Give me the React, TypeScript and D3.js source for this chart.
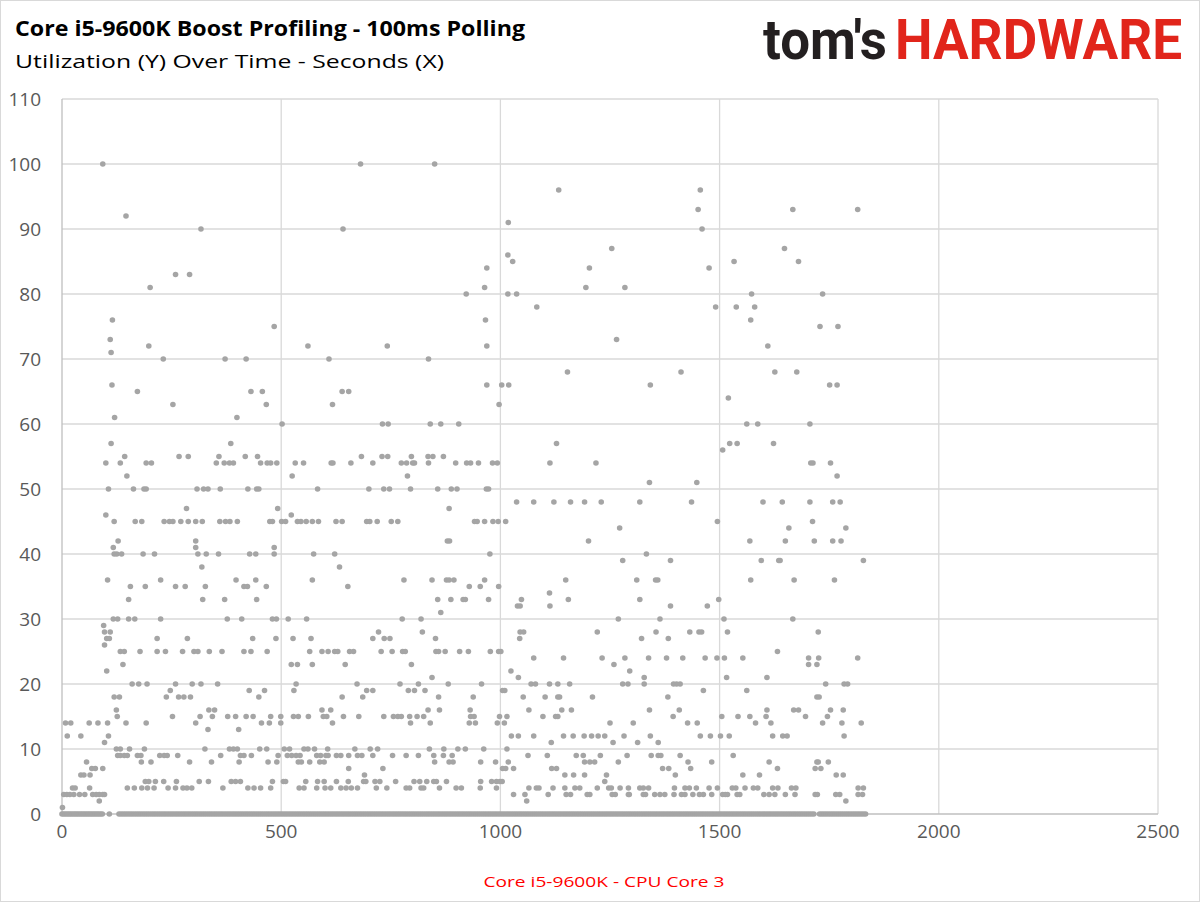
import * as d3 from "d3";
import { useEffect } from "react";

// [utilization %, seconds at which that reading was seen]
type Row = [number, number[]];

const xTicks = [0, 500, 1000, 1500, 2000, 2500];
const yTicks = [0, 10, 20, 30, 40, 50, 60, 70, 80, 90, 100, 110];

// idle samples sitting on the 0% line
const zeroSeconds = [
  0, 4, 8, 12, 16, 20, 24, 28, 32, 36, 40, 44, 48, 52, 56, 60, 64, 68, 72, 76,
  80, 84, 88, 92, 108, 130, 135, 140, 145, 150, 155, 160, 165, 170, 175, 180,
  185, 190, 195, 200, 205, 210, 215, 220, 225, 230, 235, 240, 245, 250, 255,
  260, 265, 270, 275, 280, 285, 290, 295, 300, 305, 310, 315, 320, 325, 330,
  335, 340, 345, 350, 355, 360, 365, 370, 375, 380, 385, 390, 395, 400, 405,
  410, 415, 420, 425, 430, 435, 440, 445, 450, 455, 460, 465, 470, 475, 480,
  485, 490, 495, 500, 505, 510, 515, 520, 525, 530, 535, 540, 545, 550, 555,
  560, 565, 570, 575, 580, 585, 590, 595, 600, 605, 610, 615, 620, 625, 630,
  635, 640, 645, 650, 655, 660, 665, 670, 675, 680, 685, 690, 695, 700, 705,
  710, 715, 720, 725, 730, 735, 740, 745, 750, 755, 760, 765, 770, 775, 780,
  785, 790, 795, 800, 805, 810, 815, 820, 825, 830, 835, 840, 845, 850, 855,
  860, 865, 870, 875, 880, 885, 890, 895, 900, 905, 910, 915, 920, 925, 930,
  935, 940, 945, 950, 955, 960, 965, 970, 975, 980, 985, 990, 995, 1000, 1005,
  1010, 1015, 1020, 1025, 1030, 1035, 1040, 1045, 1050, 1055, 1060, 1065, 1070,
  1075, 1080, 1085, 1090, 1095, 1100, 1105, 1110, 1115, 1120, 1125, 1130, 1135,
  1140, 1145, 1150, 1155, 1160, 1165, 1170, 1175, 1180, 1185, 1190, 1195, 1200,
  1205, 1210, 1215, 1220, 1225, 1230, 1235, 1240, 1245, 1250, 1255, 1260, 1265,
  1270, 1275, 1280, 1285, 1290, 1295, 1300, 1305, 1310, 1315, 1320, 1325, 1330,
  1335, 1340, 1345, 1350, 1355, 1360, 1365, 1370, 1375, 1380, 1385, 1390, 1395,
  1400, 1405, 1410, 1415, 1420, 1425, 1430, 1435, 1440, 1445, 1450, 1455, 1460,
  1465, 1470, 1475, 1480, 1485, 1490, 1495, 1500, 1505, 1510, 1515, 1520, 1525,
  1530, 1535, 1540, 1545, 1550, 1555, 1560, 1565, 1570, 1575, 1580, 1585, 1590,
  1595, 1600, 1605, 1610, 1615, 1620, 1625, 1630, 1635, 1640, 1645, 1650, 1655,
  1660, 1665, 1670, 1675, 1680, 1685, 1690, 1695, 1700, 1705, 1710, 1715, 1728,
  1733, 1738, 1743, 1748, 1753, 1758, 1763, 1768, 1773, 1778, 1783, 1788, 1793,
  1798, 1803, 1808, 1813, 1818, 1823, 1828, 1833,
];

const early: Row[] = [
  [100, [93]],
  [92, [146]],
  [90, [317]],
  [83, [259, 291]],
  [81, [201]],
  [76, [115]],
  [75, [484]],
  [73, [110]],
  [72, [198]],
  [71, [112]],
  [70, [231, 372, 420]],
  [66, [114]],
  [65, [172, 431, 457]],
  [63, [253, 466]],
  [61, [120, 399]],
  [57, [112, 385]],
  [55, [143, 267, 288, 358, 418, 446]],
  [54, [100, 133, 192, 204, 352, 370, 382, 391, 453, 468, 476, 490]],
  [52, [148]],
  [50, [106, 163, 187, 192, 308, 323, 333, 361, 424, 444, 449]],
  [47, [284, 492]],
  [46, [100]],
  [45, [119, 167, 182, 233, 245, 253, 271, 288, 305, 320, 360, 373, 383, 400, 474, 480]],
  [42, [128, 305]],
  [41, [117, 305, 484]],
  [40, [119, 125, 136, 185, 211, 310, 329, 357, 428, 442, 484]],
  [38, [319]],
  [36, [104, 225, 397, 442]],
  [35, [156, 190, 259, 281, 327, 415, 423, 466]],
  [33, [152, 321, 371, 444]],
  [30, [117, 127, 152, 166, 225, 377, 410, 480, 489]],
  [29, [95]],
  [28, [97, 110]],
  [27, [102, 108, 217, 286, 435, 488]],
  [26, [97]],
  [25, [133, 142, 178, 217, 236, 275, 301, 310, 336, 365, 415, 431, 468]],
  [23, [139]],
  [22, [102]],
  [20, [160, 175, 194, 259, 297, 317, 355]],
  [19, [247, 427, 462]],
  [18, [119, 131, 238, 266, 278, 293, 449]],
  [16, [124, 335, 348]],
  [15, [126, 252, 315, 343, 378, 396, 420, 436, 476, 499]],
  [14, [8, 20, 62, 82, 104, 146, 192, 305, 455, 473, 499]],
  [13, [333, 403]],
  [12, [12, 43, 106]],
  [11, [97]],
  [10, [124, 133, 154, 188, 326, 382, 391, 400, 451, 467]],
  [9, [127, 133, 142, 149, 172, 180, 223, 233, 240, 264, 362, 407, 415, 432, 493]],
  [8, [56, 181, 203, 291, 341, 404, 470, 490]],
  [7, [68, 76, 93]],
  [6, [43, 50, 64]],
  [5, [190, 198, 213, 232, 261, 313, 334, 386, 396, 407, 480]],
  [4, [24, 30, 63, 149, 165, 182, 195, 210, 242, 259, 276, 285, 296, 367, 424, 438, 453, 476]],
  [3, [4, 11, 18, 27, 40, 52, 70, 78, 85, 93, 97]],
  [2, [85]],
  [1, [1]],
];

const middle: Row[] = [
  [100, [681, 850]],
  [90, [641]],
  [84, [969]],
  [81, [964]],
  [80, [922]],
  [76, [966]],
  [72, [561, 742, 969]],
  [70, [609, 836]],
  [66, [969]],
  [65, [639, 654]],
  [63, [617, 997]],
  [60, [502, 731, 744, 840, 864, 905]],
  [55, [683, 730, 743, 797, 835, 846, 870]],
  [54, [532, 551, 614, 618, 659, 709, 774, 786, 800, 804, 836, 898, 923, 932, 950, 982, 993]],
  [52, [525, 788]],
  [50, [583, 700, 734, 747, 795, 857, 888, 901, 968, 973]],
  [47, [883]],
  [46, [523]],
  [45, [501, 510, 537, 545, 557, 571, 585, 625, 639, 695, 702, 719, 751, 766, 941, 947, 964, 983, 995]],
  [42, [879, 884]],
  [40, [574, 622, 976]],
  [38, [633]],
  [36, [571, 780, 844, 877, 883, 894, 964]],
  [35, [652, 929, 954, 996]],
  [33, [857, 887, 915, 920, 973]],
  [31, [864]],
  [30, [516, 558, 776, 819]],
  [28, [722, 822]],
  [27, [527, 568, 709, 735, 748, 852]],
  [25, [565, 593, 607, 622, 629, 656, 665, 728, 753, 777, 783, 853, 859, 874, 907, 927, 977, 996]],
  [23, [523, 537, 571, 646, 797]],
  [21, [844]],
  [20, [534, 673, 771, 813, 881, 957]],
  [19, [529, 695, 709, 790, 804, 828]],
  [18, [639, 686, 859, 938]],
  [16, [593, 613, 835, 861, 931]],
  [15, [528, 539, 562, 596, 604, 642, 677, 734, 756, 766, 774, 793, 810, 825, 932, 940, 998]],
  [14, [617, 795, 840, 929, 943, 993]],
  [10, [507, 519, 552, 561, 576, 606, 668, 703, 720, 838, 871, 903, 920, 962]],
  [9, [514, 524, 534, 543, 581, 590, 602, 607, 626, 636, 654, 674, 684, 709, 754, 785, 813, 848, 870, 890]],
  [8, [539, 546, 565, 588, 598, 850, 883, 892, 955, 989]],
  [7, [654, 732]],
  [6, [690]],
  [5, [505, 510, 556, 583, 598, 626, 653, 688, 693, 714, 725, 761, 803, 816, 832, 848, 854, 877, 955, 980, 991]],
  [4, [541, 552, 581, 600, 613, 636, 648, 660, 674, 717, 741, 785, 793, 819, 825, 861, 899, 911, 954, 991]],
];

const late: Row[] = [
  [96, [1133, 1456]],
  [93, [1451]],
  [91, [1018]],
  [90, [1460]],
  [87, [1254]],
  [86, [1017]],
  [85, [1028]],
  [84, [1203, 1476]],
  [81, [1195, 1284]],
  [80, [1017, 1037]],
  [78, [1083, 1491]],
  [73, [1265]],
  [68, [1153, 1412]],
  [66, [1003, 1019, 1342]],
  [57, [1128]],
  [54, [1113, 1218]],
  [51, [1340, 1448]],
  [48, [1037, 1076, 1122, 1160, 1192, 1230, 1318, 1436]],
  [45, [1012, 1495]],
  [44, [1272]],
  [42, [1201]],
  [40, [1333]],
  [39, [1279, 1388]],
  [36, [1149, 1311, 1354, 1359]],
  [34, [1112]],
  [33, [1048, 1155, 1318, 1498]],
  [32, [1039, 1045, 1113, 1388, 1472]],
  [30, [1269, 1364]],
  [28, [1045, 1053, 1221, 1355, 1432, 1453, 1459]],
  [27, [1044, 1322, 1383]],
  [25, [1001]],
  [24, [1076, 1144, 1232, 1284, 1338, 1379, 1416, 1467, 1494]],
  [23, [1259]],
  [22, [1024, 1295]],
  [21, [1041, 1328]],
  [20, [1070, 1080, 1112, 1131, 1158, 1279, 1291, 1328, 1395, 1402, 1410]],
  [19, [1005, 1010, 1463]],
  [18, [1052, 1102, 1131, 1135, 1210, 1382]],
  [16, [1065, 1140, 1162, 1340, 1408]],
  [15, [1015, 1097, 1126, 1131, 1394]],
  [14, [1009, 1250, 1303, 1427, 1449]],
  [12, [1025, 1041, 1076, 1144, 1166, 1191, 1208, 1223, 1238, 1282, 1342, 1456, 1479]],
  [11, [1116, 1257, 1313, 1360]],
  [10, [1015]],
  [9, [1063, 1107, 1173, 1189, 1228, 1289, 1344, 1360, 1366, 1410]],
  [8, [1018, 1192, 1204, 1215, 1269, 1428, 1482]],
  [7, [1005, 1012, 1030, 1117, 1128, 1370, 1384, 1434]],
  [6, [1147, 1167, 1192, 1242, 1399]],
  [5, [999, 1004, 1238]],
  [4, [1065, 1082, 1088, 1120, 1147, 1170, 1181, 1221, 1247, 1253, 1273, 1292, 1318, 1326, 1338, 1397, 1421, 1431, 1447, 1476, 1495]],
  [3, [1030, 1056, 1109, 1150, 1160, 1198, 1204, 1255, 1262, 1292, 1294, 1326, 1331, 1352, 1364, 1375, 1396, 1413, 1421, 1439, 1454, 1463, 1482]],
  [2, [1060]],
];

const tail: Row[] = [
  [93, [1667, 1815]],
  [87, [1648]],
  [85, [1533, 1680]],
  [80, [1573, 1735]],
  [78, [1538, 1580]],
  [76, [1571]],
  [75, [1729, 1770]],
  [72, [1610]],
  [68, [1626, 1676]],
  [66, [1751, 1768]],
  [64, [1520]],
  [60, [1562, 1587, 1706]],
  [57, [1523, 1540, 1623]],
  [56, [1507]],
  [54, [1708, 1713, 1753]],
  [52, [1768]],
  [48, [1599, 1643, 1706, 1758, 1775]],
  [45, [1712]],
  [44, [1658, 1788]],
  [42, [1569, 1650, 1716, 1758, 1777]],
  [39, [1595, 1635, 1638, 1828]],
  [36, [1571, 1670, 1762]],
  [30, [1510, 1667]],
  [28, [1518, 1725]],
  [25, [1632]],
  [24, [1511, 1553, 1703, 1726, 1815]],
  [23, [1703, 1722]],
  [21, [1516, 1608]],
  [20, [1742, 1784, 1792]],
  [19, [1562]],
  [18, [1722, 1727]],
  [16, [1608, 1669, 1680, 1753, 1782]],
  [15, [1505, 1542, 1569, 1606, 1696, 1746]],
  [14, [1582, 1617, 1735, 1779, 1823]],
  [12, [1502, 1522, 1621, 1644, 1654, 1784]],
  [9, [1531]],
  [8, [1613, 1722, 1725, 1748]],
  [7, [1632, 1718, 1731]],
  [6, [1553, 1591, 1766, 1782]],
  [4, [1529, 1537, 1558, 1577, 1587, 1621, 1633, 1664, 1674, 1816, 1828]],
  [3, [1507, 1513, 1518, 1540, 1546, 1601, 1613, 1626, 1650, 1672, 1718, 1723, 1765, 1774, 1816, 1826]],
  [2, [1788]],
];

const FONT = "'Open Sans', 'Noto Sans', sans-serif";

export default function App() {
  useEffect(() => {
    document.body.style.margin = "0";
  }, []);

  const width = 1200;
  const height = 902;

  const x = d3.scaleLinear().domain([0, 2500]).range([62, 1158]);
  const y = d3.scaleLinear().domain([0, 110]).range([814, 99]);

  const points = [...early, ...middle, ...late, ...tail].flatMap(([u, secs]) =>
    secs.map((s) => [s, u] as [number, number]),
  );

  return (
    <svg width={width} height={height} style={{ display: "block" }}>
      <rect x={0} y={0} width={width} height={height} fill="#fff" />
      <rect x={0.5} y={0.5} width={width - 1} height={height - 1} fill="none" stroke="#d9d9d9" />

      {/* ===== Title + logo ===== */}
      <text x={15} y={36} fontFamily={FONT} fontWeight={700} fontSize={22} fill="#000"
        textLength={510} lengthAdjust="spacingAndGlyphs">
        Core i5-9600K Boost Profiling - 100ms Polling
      </text>
      <text x={15} y={68} fontFamily={FONT} fontSize={19} fill="#000"
        textLength={429} lengthAdjust="spacingAndGlyphs">
        Utilization (Y) Over Time - Seconds (X)
      </text>
      <text x={763} y={59} fontFamily="Roboto, sans-serif" fontWeight={700} fontSize={56}
        fill="#231f20" textLength={124} lengthAdjust="spacingAndGlyphs">
        tom's
      </text>
      <text x={895} y={59} fontFamily="Roboto, sans-serif" fontWeight={700} fontSize={56}
        fill="#e1251b" textLength={287} lengthAdjust="spacingAndGlyphs">
        HARDWARE
      </text>

      {/* ===== Grid ===== */}
      {yTicks.filter((t) => t > 0).map((t) => (
        <line key={`gy${t}`} x1={x(0)} x2={x(2500)} y1={y(t)} y2={y(t)} stroke="#d9d9d9" strokeWidth={1.3} />
      ))}
      {xTicks.filter((t) => t > 0).map((t) => (
        <line key={`gx${t}`} x1={x(t)} x2={x(t)} y1={y(0)} y2={y(110)} stroke="#d9d9d9" strokeWidth={1.3} />
      ))}
      <line x1={x(0)} x2={x(0)} y1={y(0)} y2={y(110)} stroke="#bfbfbf" strokeWidth={1.3} />
      <line x1={x(0)} x2={x(2500)} y1={y(0)} y2={y(0)} stroke="#bfbfbf" strokeWidth={1.3} />

      {/* ===== Samples ===== */}
      <g fill="#a5a5a5">
        {zeroSeconds.map((s, i) => (
          <circle key={`z${i}`} cx={x(s)} cy={y(0)} r={2.8} />
        ))}
        {points.map(([s, u], i) => (
          <circle key={`p${i}`} cx={x(s)} cy={y(u)} r={2.8} />
        ))}
      </g>

      {/* ===== Axis labels ===== */}
      <g fontFamily={FONT} fontSize={19} fill="#595959">
        {yTicks.map((t) => (
          <text key={`ty${t}`} x={41} y={y(t)} textAnchor="end" dominantBaseline="central">
            {t}
          </text>
        ))}
        {xTicks.map((t) => (
          <text key={`tx${t}`} x={x(t)} y={831} textAnchor="middle" dominantBaseline="central">
            {t}
          </text>
        ))}
      </g>
      <text x={604} y={881} fontFamily={FONT} fontSize={15} fill="#ff0000" textAnchor="middle"
        dominantBaseline="central" textLength={241} lengthAdjust="spacingAndGlyphs">
        Core i5-9600K - CPU Core 3
      </text>
    </svg>
  );
}
